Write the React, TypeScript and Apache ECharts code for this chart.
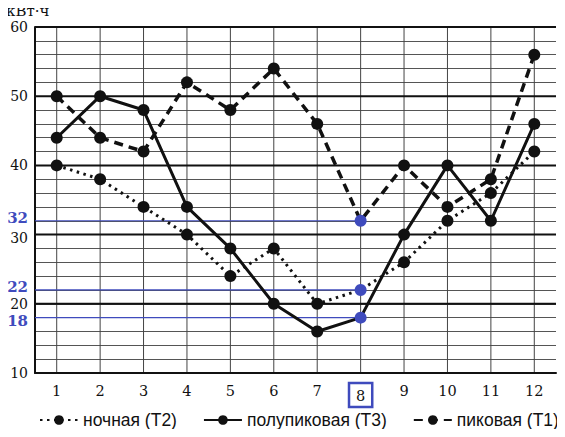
import React, { useEffect, useRef } from "react";
import * as echarts from "echarts";

const months = ["1", "2", "3", "4", "5", "6", "7", "8", "9", "10", "11", "12"];
const nightT2 = [40, 38, 34, 30, 24, 28, 20, 22, 26, 32, 36, 42];
const halfPeakT3 = [44, 50, 48, 34, 28, 20, 16, 18, 30, 40, 32, 46];
const peakT1 = [50, 44, 42, 52, 48, 54, 46, 32, 40, 34, 38, 56];
const highlightMonth = "8";
const highlightLevels = [32, 22, 18];

const BLUE = "#3f4bbd";
const INK = "#111";
const SERIF = "'DejaVu Serif', 'Liberation Serif', serif";
const SANS = "'Liberation Sans', Arial, sans-serif";

function pointsWithHighlight(values: number[]) {
  return values.map((v, i) =>
    months[i] === highlightMonth ? { value: v, itemStyle: { color: BLUE } } : v
  );
}

// crowded labels near the highlighted levels are nudged apart a little
function yLabel(v: number): string {
  if (v === 32 || v === 22) return `{hlUp|${v}}`;
  if (v === 18) return `{hlDown|${v}}`;
  if (v === 30) return `{nDown|${v}}`;
  return v % 10 === 0 ? `{n|${v}}` : "";
}

export default function App() {
  const ref = useRef<HTMLDivElement>(null);

  useEffect(() => {
    if (!ref.current) return;
    const chart = echarts.init(ref.current, undefined, { renderer: "svg" });

    const lineSeries = (name: string, values: number[], type: any, width: number) => ({
      name,
      type: "line",
      data: pointsWithHighlight(values),
      symbol: "circle",
      symbolSize: 12,
      z: 5,
      itemStyle: { color: INK },
      lineStyle: { color: INK, width, type },
    });

    const yText = { fontFamily: SERIF, fontSize: 14, lineHeight: 12, color: INK };
    const hlText = { fontFamily: SERIF, fontSize: 15, lineHeight: 12, fontWeight: "bold", color: BLUE };

    chart.setOption({
      animation: false,
      title: {
        text: "кВт·ч",
        left: 5,
        top: 2,
        padding: 1,
        textStyle: { fontFamily: SERIF, fontSize: 15, lineHeight: 16, fontWeight: "normal", color: INK },
      },
      grid: { left: 35, right: 9, top: 27, bottom: 64, containLabel: false },
      legend: {
        bottom: 3,
        left: 34,
        itemWidth: 38,
        itemHeight: 12,
        itemGap: 26,
        textStyle: { fontFamily: SANS, fontSize: 17.5, color: INK },
        data: ["ночная (T2)", "полупиковая (T3)", "пиковая (T1)"],
      },
      xAxis: {
        type: "category",
        data: months,
        boundaryGap: true,
        axisLine: { show: true, lineStyle: { color: INK, width: 2 } },
        axisTick: { show: false },
        splitLine: { show: false },
        axisLabel: {
          interval: 0,
          margin: 10,
          fontFamily: SERIF,
          fontSize: 14.5,
          color: INK,
          formatter: (v: string) => (v === highlightMonth ? `{box|${v}}` : v),
          rich: {
            box: {
              fontFamily: SERIF,
              fontSize: 14.5,
              color: INK,
              borderColor: BLUE,
              borderWidth: 2.5,
              padding: [5, 7, 4, 7],
            },
          },
        },
      },
      yAxis: {
        type: "value",
        min: 10,
        max: 60,
        interval: 2,
        axisLine: { show: true, lineStyle: { color: INK, width: 2 } },
        axisTick: { show: false },
        splitLine: { show: true, lineStyle: { color: "#555", width: 1 } },
        axisLabel: {
          margin: 7,
          fontFamily: SERIF,
          fontSize: 14,
          lineHeight: 12,
          color: INK,
          formatter: yLabel,
          rich: {
            n: yText,
            nDown: { ...yText, padding: [6, 0, 0, 0] },
            hlUp: { ...hlText, padding: [0, 0, 6, 0] },
            hlDown: { ...hlText, padding: [6, 0, 0, 0] },
          },
        },
      },
      series: [
        {
          // decade grid lines, drawn heavier than the 2-unit lines
          type: "custom",
          silent: true,
          z: 2,
          data: [10, 20, 30, 40, 50, 60].map((v) => [months[0], v]),
          renderItem: (params: any, api: any) => {
            const p = api.coord([api.value(0), api.value(1)]);
            const cs = params.coordSys;
            return {
              type: "line",
              shape: { x1: cs.x, y1: p[1], x2: cs.x + cs.width, y2: p[1] },
              style: { stroke: INK, lineWidth: 2 },
            };
          },
        },
        {
          // vertical guides through each month
          type: "custom",
          silent: true,
          z: 1,
          data: months.map((m) => [m, 60]),
          renderItem: (params: any, api: any) => {
            const p = api.coord([api.value(0), 60]);
            const q = api.coord([api.value(0), 10]);
            return {
              type: "line",
              shape: { x1: p[0], y1: p[1], x2: q[0], y2: q[1] },
              style: { stroke: "#444", lineWidth: 1 },
            };
          },
        },
        {
          // blue reference levels running from the axis to the highlighted month
          type: "custom",
          silent: true,
          z: 3,
          data: highlightLevels.map((v) => [highlightMonth, v]),
          renderItem: (params: any, api: any) => {
            const p = api.coord([api.value(0), api.value(1)]);
            return {
              type: "line",
              shape: { x1: params.coordSys.x, y1: p[1], x2: p[0], y2: p[1] },
              style: { stroke: BLUE, lineWidth: 1.2 },
            };
          },
        },
        lineSeries("ночная (T2)", nightT2, [2.5, 4.5], 3),
        lineSeries("полупиковая (T3)", halfPeakT3, "solid", 3),
        lineSeries("пиковая (T1)", peakT1, [9, 6], 3.5),
      ],
    });

    return () => chart.dispose();
  }, []);

  return <div ref={ref} style={{ width: 565, height: 437, margin: -8 }} />;
}
